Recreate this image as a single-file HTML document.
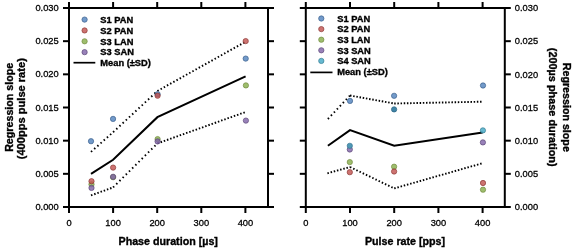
<!DOCTYPE html>
<html><head><meta charset="utf-8"><style>
html,body{margin:0;padding:0;background:#fff;}
svg{display:block;font-family:"Liberation Sans", sans-serif;will-change:transform;filter:blur(0.35px);}
text{fill:#000;stroke:#000;stroke-width:0.28px;}
text[font-weight="bold"]{stroke:#000;stroke-width:0.35px;}
</style></head><body>
<svg width="575" height="249" viewBox="0 0 575 249">
<rect width="575" height="249" fill="#fff"/>
<polyline points="91.00,173.80 113.10,159.80 157.40,117.20 245.60,76.30" fill="none" stroke="#000" stroke-width="2"/>
<line x1="91.00" y1="151.90" x2="113.10" y2="132.20" stroke="#000" stroke-width="1.9" stroke-dasharray="1.50 2.76"/>
<line x1="113.10" y1="132.20" x2="157.40" y2="91.00" stroke="#000" stroke-width="1.9" stroke-dasharray="1.50 2.84"/>
<line x1="157.40" y1="91.00" x2="245.60" y2="41.70" stroke="#000" stroke-width="1.9" stroke-dasharray="1.50 2.14"/>
<line x1="91.00" y1="195.40" x2="113.10" y2="187.40" stroke="#000" stroke-width="1.9" stroke-dasharray="1.50 1.88"/>
<line x1="113.10" y1="187.40" x2="157.40" y2="143.40" stroke="#000" stroke-width="1.9" stroke-dasharray="1.50 2.98"/>
<line x1="157.40" y1="143.40" x2="245.60" y2="112.00" stroke="#000" stroke-width="1.9" stroke-dasharray="1.50 1.88"/>
<circle cx="91.00" cy="141.20" r="2.65" fill="#4F81BD" fill-opacity="0.8" stroke="#385D8A" stroke-opacity="0.85" stroke-width="0.8"/>
<circle cx="91.50" cy="184.30" r="2.65" fill="#86AE48" fill-opacity="0.8" stroke="#71893F" stroke-opacity="0.85" stroke-width="0.8"/>
<circle cx="91.50" cy="181.20" r="2.65" fill="#C0504D" fill-opacity="0.8" stroke="#8C3836" stroke-opacity="0.85" stroke-width="0.8"/>
<circle cx="91.50" cy="187.90" r="2.65" fill="#7E62A8" fill-opacity="0.8" stroke="#5C4776" stroke-opacity="0.85" stroke-width="0.8"/>
<circle cx="113.05" cy="118.90" r="2.65" fill="#4F81BD" fill-opacity="0.8" stroke="#385D8A" stroke-opacity="0.85" stroke-width="0.8"/>
<circle cx="113.10" cy="177.20" r="2.65" fill="#86AE48" fill-opacity="0.8" stroke="#71893F" stroke-opacity="0.85" stroke-width="0.8"/>
<circle cx="113.10" cy="167.60" r="2.65" fill="#C0504D" fill-opacity="0.8" stroke="#8C3836" stroke-opacity="0.85" stroke-width="0.8"/>
<circle cx="113.10" cy="176.80" r="2.65" fill="#7E62A8" fill-opacity="0.8" stroke="#5C4776" stroke-opacity="0.85" stroke-width="0.8"/>
<circle cx="157.60" cy="94.20" r="2.65" fill="#4F81BD" fill-opacity="0.8" stroke="#385D8A" stroke-opacity="0.85" stroke-width="0.8"/>
<circle cx="157.60" cy="95.70" r="2.65" fill="#C0504D" fill-opacity="0.8" stroke="#8C3836" stroke-opacity="0.85" stroke-width="0.8"/>
<circle cx="157.60" cy="139.10" r="2.65" fill="#86AE48" fill-opacity="0.8" stroke="#71893F" stroke-opacity="0.85" stroke-width="0.8"/>
<circle cx="157.60" cy="141.40" r="2.65" fill="#7E62A8" fill-opacity="0.8" stroke="#5C4776" stroke-opacity="0.85" stroke-width="0.8"/>
<circle cx="245.70" cy="58.60" r="2.65" fill="#4F81BD" fill-opacity="0.8" stroke="#385D8A" stroke-opacity="0.85" stroke-width="0.8"/>
<circle cx="245.70" cy="41.10" r="2.65" fill="#C0504D" fill-opacity="0.8" stroke="#8C3836" stroke-opacity="0.85" stroke-width="0.8"/>
<circle cx="245.90" cy="85.40" r="2.65" fill="#86AE48" fill-opacity="0.8" stroke="#71893F" stroke-opacity="0.85" stroke-width="0.8"/>
<circle cx="245.90" cy="120.60" r="2.65" fill="#7E62A8" fill-opacity="0.8" stroke="#5C4776" stroke-opacity="0.85" stroke-width="0.8"/>
<polyline points="327.90,145.70 350.00,130.10 394.20,145.70 482.60,132.50" fill="none" stroke="#000" stroke-width="2"/>
<line x1="327.90" y1="119.00" x2="350.00" y2="95.50" stroke="#000" stroke-width="1.9" stroke-dasharray="1.50 2.87"/>
<line x1="350.00" y1="95.50" x2="394.20" y2="103.50" stroke="#000" stroke-width="1.9" stroke-dasharray="1.50 1.73"/>
<line x1="394.20" y1="103.50" x2="482.60" y2="101.70" stroke="#000" stroke-width="1.9" stroke-dasharray="1.50 1.68"/>
<line x1="327.40" y1="173.30" x2="350.00" y2="167.00" stroke="#000" stroke-width="1.9" stroke-dasharray="1.50 1.80"/>
<line x1="350.00" y1="167.00" x2="394.20" y2="188.40" stroke="#000" stroke-width="1.9" stroke-dasharray="1.50 2.03"/>
<line x1="394.20" y1="188.40" x2="482.60" y2="163.20" stroke="#000" stroke-width="1.9" stroke-dasharray="1.50 1.81"/>
<circle cx="350.00" cy="100.90" r="2.65" fill="#4F81BD" fill-opacity="0.8" stroke="#385D8A" stroke-opacity="0.85" stroke-width="0.8"/>
<circle cx="349.80" cy="149.50" r="2.65" fill="#7E62A8" fill-opacity="0.8" stroke="#5C4776" stroke-opacity="0.85" stroke-width="0.8"/>
<circle cx="349.80" cy="145.80" r="2.65" fill="#4F98B6" fill-opacity="1" stroke="#34728E" stroke-opacity="0.85" stroke-width="0.8"/>
<circle cx="349.80" cy="162.10" r="2.65" fill="#86AE48" fill-opacity="0.8" stroke="#71893F" stroke-opacity="0.85" stroke-width="0.8"/>
<circle cx="349.80" cy="172.20" r="2.65" fill="#C0504D" fill-opacity="0.8" stroke="#8C3836" stroke-opacity="0.85" stroke-width="0.8"/>
<circle cx="394.10" cy="95.80" r="2.65" fill="#4F81BD" fill-opacity="0.8" stroke="#385D8A" stroke-opacity="0.85" stroke-width="0.8"/>
<circle cx="394.10" cy="109.40" r="2.65" fill="#4084A6" fill-opacity="1" stroke="#2A6482" stroke-opacity="0.85" stroke-width="0.8"/>
<circle cx="394.10" cy="166.70" r="2.65" fill="#86AE48" fill-opacity="0.8" stroke="#71893F" stroke-opacity="0.85" stroke-width="0.8"/>
<circle cx="394.10" cy="171.50" r="2.65" fill="#C0504D" fill-opacity="0.8" stroke="#8C3836" stroke-opacity="0.85" stroke-width="0.8"/>
<circle cx="483.00" cy="85.50" r="2.65" fill="#4F81BD" fill-opacity="0.8" stroke="#385D8A" stroke-opacity="0.85" stroke-width="0.8"/>
<circle cx="482.90" cy="130.40" r="2.65" fill="#40A8C6" fill-opacity="0.8" stroke="#357D91" stroke-opacity="0.85" stroke-width="0.8"/>
<circle cx="482.90" cy="142.40" r="2.65" fill="#7E62A8" fill-opacity="0.8" stroke="#5C4776" stroke-opacity="0.85" stroke-width="0.8"/>
<circle cx="483.00" cy="183.00" r="2.65" fill="#C0504D" fill-opacity="0.8" stroke="#8C3836" stroke-opacity="0.85" stroke-width="0.8"/>
<circle cx="483.00" cy="189.70" r="2.65" fill="#86AE48" fill-opacity="0.8" stroke="#71893F" stroke-opacity="0.85" stroke-width="0.8"/>
<line x1="69.00" y1="8.00" x2="69.00" y2="208.00" stroke="#000" stroke-width="2" />
<line x1="268.00" y1="7.00" x2="268.00" y2="208.00" stroke="#000" stroke-width="2" />
<line x1="68.00" y1="8.00" x2="269.00" y2="8.00" stroke="#000" stroke-width="2" />
<line x1="68.00" y1="207.00" x2="269.00" y2="207.00" stroke="#000" stroke-width="2" />
<line x1="63.00" y1="207.00" x2="69.00" y2="207.00" stroke="#000" stroke-width="2" />
<line x1="268.00" y1="207.00" x2="274.00" y2="207.00" stroke="#000" stroke-width="2" />
<line x1="63.00" y1="173.83" x2="69.00" y2="173.83" stroke="#000" stroke-width="2" />
<line x1="268.00" y1="173.83" x2="274.00" y2="173.83" stroke="#000" stroke-width="2" />
<line x1="63.00" y1="140.67" x2="69.00" y2="140.67" stroke="#000" stroke-width="2" />
<line x1="268.00" y1="140.67" x2="274.00" y2="140.67" stroke="#000" stroke-width="2" />
<line x1="63.00" y1="107.50" x2="69.00" y2="107.50" stroke="#000" stroke-width="2" />
<line x1="268.00" y1="107.50" x2="274.00" y2="107.50" stroke="#000" stroke-width="2" />
<line x1="63.00" y1="74.33" x2="69.00" y2="74.33" stroke="#000" stroke-width="2" />
<line x1="268.00" y1="74.33" x2="274.00" y2="74.33" stroke="#000" stroke-width="2" />
<line x1="63.00" y1="41.17" x2="69.00" y2="41.17" stroke="#000" stroke-width="2" />
<line x1="268.00" y1="41.17" x2="274.00" y2="41.17" stroke="#000" stroke-width="2" />
<line x1="63.00" y1="8.00" x2="69.00" y2="8.00" stroke="#000" stroke-width="2" />
<line x1="268.00" y1="8.00" x2="274.00" y2="8.00" stroke="#000" stroke-width="2" />
<line x1="69.00" y1="207.00" x2="69.00" y2="213.00" stroke="#000" stroke-width="2" />
<line x1="69.00" y1="2.00" x2="69.00" y2="8.00" stroke="#000" stroke-width="2" />
<line x1="113.10" y1="207.00" x2="113.10" y2="213.00" stroke="#000" stroke-width="2" />
<line x1="113.10" y1="2.00" x2="113.10" y2="8.00" stroke="#000" stroke-width="2" />
<line x1="157.20" y1="207.00" x2="157.20" y2="213.00" stroke="#000" stroke-width="2" />
<line x1="157.20" y1="2.00" x2="157.20" y2="8.00" stroke="#000" stroke-width="2" />
<line x1="201.30" y1="207.00" x2="201.30" y2="213.00" stroke="#000" stroke-width="2" />
<line x1="201.30" y1="2.00" x2="201.30" y2="8.00" stroke="#000" stroke-width="2" />
<line x1="245.40" y1="207.00" x2="245.40" y2="213.00" stroke="#000" stroke-width="2" />
<line x1="245.40" y1="2.00" x2="245.40" y2="8.00" stroke="#000" stroke-width="2" />
<line x1="305.80" y1="8.00" x2="305.80" y2="208.00" stroke="#000" stroke-width="2" />
<line x1="504.80" y1="7.00" x2="504.80" y2="208.00" stroke="#000" stroke-width="2" />
<line x1="304.80" y1="8.00" x2="505.80" y2="8.00" stroke="#000" stroke-width="2" />
<line x1="304.80" y1="207.00" x2="505.80" y2="207.00" stroke="#000" stroke-width="2" />
<line x1="299.80" y1="207.00" x2="305.80" y2="207.00" stroke="#000" stroke-width="2" />
<line x1="504.80" y1="207.00" x2="510.80" y2="207.00" stroke="#000" stroke-width="2" />
<line x1="299.80" y1="173.83" x2="305.80" y2="173.83" stroke="#000" stroke-width="2" />
<line x1="504.80" y1="173.83" x2="510.80" y2="173.83" stroke="#000" stroke-width="2" />
<line x1="299.80" y1="140.67" x2="305.80" y2="140.67" stroke="#000" stroke-width="2" />
<line x1="504.80" y1="140.67" x2="510.80" y2="140.67" stroke="#000" stroke-width="2" />
<line x1="299.80" y1="107.50" x2="305.80" y2="107.50" stroke="#000" stroke-width="2" />
<line x1="504.80" y1="107.50" x2="510.80" y2="107.50" stroke="#000" stroke-width="2" />
<line x1="299.80" y1="74.33" x2="305.80" y2="74.33" stroke="#000" stroke-width="2" />
<line x1="504.80" y1="74.33" x2="510.80" y2="74.33" stroke="#000" stroke-width="2" />
<line x1="299.80" y1="41.17" x2="305.80" y2="41.17" stroke="#000" stroke-width="2" />
<line x1="504.80" y1="41.17" x2="510.80" y2="41.17" stroke="#000" stroke-width="2" />
<line x1="299.80" y1="8.00" x2="305.80" y2="8.00" stroke="#000" stroke-width="2" />
<line x1="504.80" y1="8.00" x2="510.80" y2="8.00" stroke="#000" stroke-width="2" />
<line x1="305.80" y1="207.00" x2="305.80" y2="213.00" stroke="#000" stroke-width="2" />
<line x1="305.80" y1="2.00" x2="305.80" y2="8.00" stroke="#000" stroke-width="2" />
<line x1="350.00" y1="207.00" x2="350.00" y2="213.00" stroke="#000" stroke-width="2" />
<line x1="350.00" y1="2.00" x2="350.00" y2="8.00" stroke="#000" stroke-width="2" />
<line x1="394.20" y1="207.00" x2="394.20" y2="213.00" stroke="#000" stroke-width="2" />
<line x1="394.20" y1="2.00" x2="394.20" y2="8.00" stroke="#000" stroke-width="2" />
<line x1="438.40" y1="207.00" x2="438.40" y2="213.00" stroke="#000" stroke-width="2" />
<line x1="438.40" y1="2.00" x2="438.40" y2="8.00" stroke="#000" stroke-width="2" />
<line x1="482.60" y1="207.00" x2="482.60" y2="213.00" stroke="#000" stroke-width="2" />
<line x1="482.60" y1="2.00" x2="482.60" y2="8.00" stroke="#000" stroke-width="2" />
<text transform="translate(58.70,210.00) scale(1,1.0)" font-size="9.3" font-weight="normal" text-anchor="end" >0.000</text>
<text transform="translate(514.80,210.20) scale(1,1.0)" font-size="9.3" font-weight="normal" text-anchor="start" >0.000</text>
<text transform="translate(58.70,176.83) scale(1,1.0)" font-size="9.3" font-weight="normal" text-anchor="end" >0.005</text>
<text transform="translate(514.80,177.03) scale(1,1.0)" font-size="9.3" font-weight="normal" text-anchor="start" >0.005</text>
<text transform="translate(58.70,143.67) scale(1,1.0)" font-size="9.3" font-weight="normal" text-anchor="end" >0.010</text>
<text transform="translate(514.80,143.87) scale(1,1.0)" font-size="9.3" font-weight="normal" text-anchor="start" >0.010</text>
<text transform="translate(58.70,110.50) scale(1,1.0)" font-size="9.3" font-weight="normal" text-anchor="end" >0.015</text>
<text transform="translate(514.80,110.70) scale(1,1.0)" font-size="9.3" font-weight="normal" text-anchor="start" >0.015</text>
<text transform="translate(58.70,77.33) scale(1,1.0)" font-size="9.3" font-weight="normal" text-anchor="end" >0.020</text>
<text transform="translate(514.80,77.53) scale(1,1.0)" font-size="9.3" font-weight="normal" text-anchor="start" >0.020</text>
<text transform="translate(58.70,44.17) scale(1,1.0)" font-size="9.3" font-weight="normal" text-anchor="end" >0.025</text>
<text transform="translate(514.80,44.37) scale(1,1.0)" font-size="9.3" font-weight="normal" text-anchor="start" >0.025</text>
<text transform="translate(58.70,11.00) scale(1,1.0)" font-size="9.3" font-weight="normal" text-anchor="end" >0.030</text>
<text transform="translate(514.80,11.20) scale(1,1.0)" font-size="9.3" font-weight="normal" text-anchor="start" >0.030</text>
<text transform="translate(69.00,225.70) scale(1,1.0)" font-size="9.3" font-weight="normal" text-anchor="middle" >0</text>
<text transform="translate(305.80,225.70) scale(1,1.0)" font-size="9.3" font-weight="normal" text-anchor="middle" >0</text>
<text transform="translate(113.10,225.70) scale(1,1.0)" font-size="9.3" font-weight="normal" text-anchor="middle" >100</text>
<text transform="translate(350.00,225.70) scale(1,1.0)" font-size="9.3" font-weight="normal" text-anchor="middle" >100</text>
<text transform="translate(157.20,225.70) scale(1,1.0)" font-size="9.3" font-weight="normal" text-anchor="middle" >200</text>
<text transform="translate(394.20,225.70) scale(1,1.0)" font-size="9.3" font-weight="normal" text-anchor="middle" >200</text>
<text transform="translate(201.30,225.70) scale(1,1.0)" font-size="9.3" font-weight="normal" text-anchor="middle" >300</text>
<text transform="translate(438.40,225.70) scale(1,1.0)" font-size="9.3" font-weight="normal" text-anchor="middle" >300</text>
<text transform="translate(245.40,225.70) scale(1,1.0)" font-size="9.3" font-weight="normal" text-anchor="middle" >400</text>
<text transform="translate(482.60,225.70) scale(1,1.0)" font-size="9.3" font-weight="normal" text-anchor="middle" >400</text>
<text transform="translate(168.20,245.20) scale(1,1.0)" font-size="10.7" font-weight="bold" text-anchor="middle" >Phase duration [µs]</text>
<text transform="translate(405.00,245.20) scale(1,1.0)" font-size="10.7" font-weight="bold" text-anchor="middle" >Pulse rate [pps]</text>
<g transform="translate(12.8,107.3) rotate(-90)"><text transform="scale(1,1.0)" font-size="10.7" font-weight="bold" text-anchor="middle">Regression slope</text><text transform="translate(-1.4,12.6) scale(1,1.0)" font-size="11.1" font-weight="bold" text-anchor="middle">(400pps pulse rate)</text></g>
<g transform="translate(563.3,107.3) rotate(90)"><text transform="scale(1,1.0)" font-size="10.7" font-weight="bold" text-anchor="middle">Regression slope</text><text transform="translate(-0.1,14.1) scale(1,1.0)" font-size="10.9" font-weight="bold" text-anchor="middle">(200µs phase duration)</text></g>
<circle cx="84.60" cy="19.60" r="2.65" fill="#4F81BD" fill-opacity="0.8" stroke="#385D8A" stroke-opacity="0.85" stroke-width="0.8"/>
<text transform="translate(100.30,22.80) scale(1,1.0)" font-size="9.3" font-weight="bold" text-anchor="start" >S1 PAN</text>
<circle cx="84.60" cy="30.45" r="2.65" fill="#C0504D" fill-opacity="0.8" stroke="#8C3836" stroke-opacity="0.85" stroke-width="0.8"/>
<text transform="translate(100.30,33.65) scale(1,1.0)" font-size="9.3" font-weight="bold" text-anchor="start" >S2 PAN</text>
<circle cx="84.60" cy="41.30" r="2.65" fill="#86AE48" fill-opacity="0.8" stroke="#71893F" stroke-opacity="0.85" stroke-width="0.8"/>
<text transform="translate(100.30,44.50) scale(1,1.0)" font-size="9.3" font-weight="bold" text-anchor="start" >S3 LAN</text>
<circle cx="84.60" cy="52.15" r="2.65" fill="#7E62A8" fill-opacity="0.8" stroke="#5C4776" stroke-opacity="0.85" stroke-width="0.8"/>
<text transform="translate(100.30,55.35) scale(1,1.0)" font-size="9.3" font-weight="bold" text-anchor="start" >S3 SAN</text>
<line x1="73.50" y1="62.70" x2="95.30" y2="62.70" stroke="#000" stroke-width="1.7" />
<text transform="translate(100.30,66.20) scale(1,1.0)" font-size="9.3" font-weight="bold" text-anchor="start" >Mean (±SD)</text>
<circle cx="321.30" cy="18.50" r="2.65" fill="#4F81BD" fill-opacity="0.8" stroke="#385D8A" stroke-opacity="0.85" stroke-width="0.8"/>
<text transform="translate(337.20,21.70) scale(1,1.0)" font-size="9.3" font-weight="bold" text-anchor="start" >S1 PAN</text>
<circle cx="321.30" cy="29.10" r="2.65" fill="#C0504D" fill-opacity="0.8" stroke="#8C3836" stroke-opacity="0.85" stroke-width="0.8"/>
<text transform="translate(337.20,32.30) scale(1,1.0)" font-size="9.3" font-weight="bold" text-anchor="start" >S2 PAN</text>
<circle cx="321.30" cy="39.70" r="2.65" fill="#86AE48" fill-opacity="0.8" stroke="#71893F" stroke-opacity="0.85" stroke-width="0.8"/>
<text transform="translate(337.20,42.90) scale(1,1.0)" font-size="9.3" font-weight="bold" text-anchor="start" >S3 LAN</text>
<circle cx="321.30" cy="50.30" r="2.65" fill="#7E62A8" fill-opacity="0.8" stroke="#5C4776" stroke-opacity="0.85" stroke-width="0.8"/>
<text transform="translate(337.20,53.50) scale(1,1.0)" font-size="9.3" font-weight="bold" text-anchor="start" >S3 SAN</text>
<circle cx="321.30" cy="60.90" r="2.65" fill="#40A8C6" fill-opacity="0.8" stroke="#357D91" stroke-opacity="0.85" stroke-width="0.8"/>
<text transform="translate(337.20,64.10) scale(1,1.0)" font-size="9.3" font-weight="bold" text-anchor="start" >S4 SAN</text>
<line x1="310.30" y1="72.40" x2="332.50" y2="72.40" stroke="#000" stroke-width="1.7" />
<text transform="translate(337.20,74.70) scale(1,1.0)" font-size="9.3" font-weight="bold" text-anchor="start" >Mean (±SD)</text>
</svg>
</body></html>
